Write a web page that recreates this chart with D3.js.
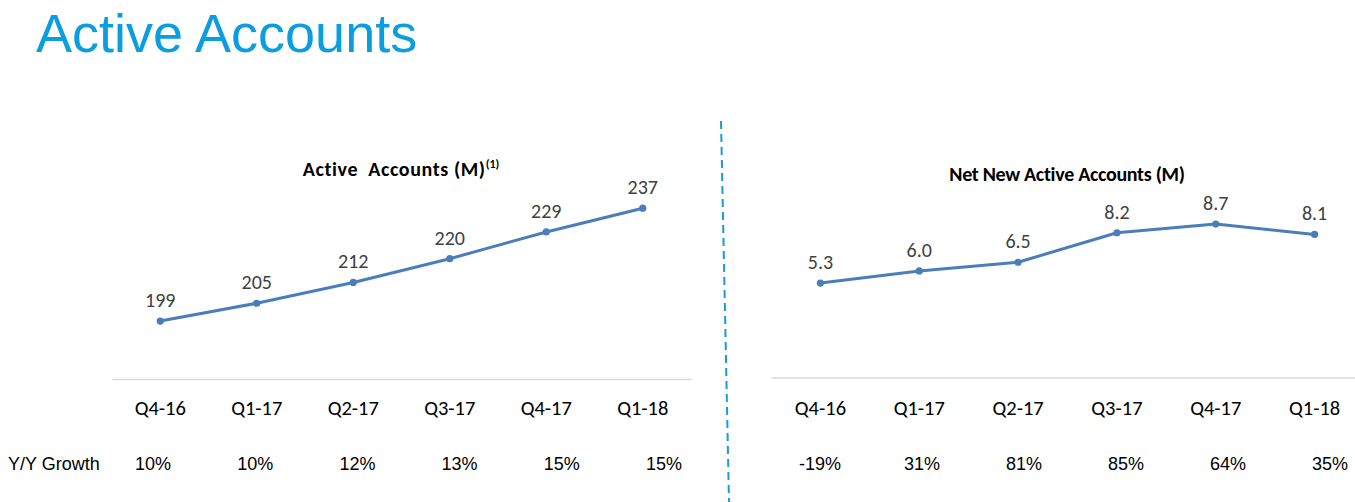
<!DOCTYPE html>
<html>
<head>
<meta charset="utf-8">
<script src="https://cdn.jsdelivr.net/npm/d3@7"></script>
<style>
  html, body { margin: 0; padding: 0; background: #ffffff; }
  svg { display: block; }
</style>
</head>
<body>
<svg id="chart" width="1355" height="502"></svg>
<script>
// ---- data ----
const quarters = ["Q4-16", "Q1-17", "Q2-17", "Q3-17", "Q4-17", "Q1-18"];
const activeAccounts = [199, 205, 212, 220, 229, 237];
const activeLabels = ["199", "205", "212", "220", "229", "237"];
const activeGrowth = ["10%", "10%", "12%", "13%", "15%", "15%"];
const netNewAccounts = [5.3, 6.0, 6.5, 8.2, 8.7, 8.1];
const netNewLabels = ["5.3", "6.0", "6.5", "8.2", "8.7", "8.1"];
const netNewGrowth = ["-19%", "31%", "81%", "85%", "64%", "35%"];
const pageTitle = "Active Accounts";
const leftTitle = "Active  Accounts (M)";
const leftTitleSup = "(1)";
const rightTitle = "Net New Active Accounts (M)";
const growthLabel = "Y/Y Growth";

const svg = d3.select("#chart");
const lineColor = "#4a7ebb";
const labelFont = "Carlito, Lato, 'Open Sans', sans-serif";
const arialFont = "'Liberation Sans', Arial, sans-serif";

// Page title
svg.append("text")
  .attr("x", 36).attr("y", 52)
  .attr("font-family", arialFont)
  .attr("font-size", 54)
  .attr("fill", "#0a9de0")
  .text(pageTitle);

// Divider
svg.append("line")
  .attr("x1", 721).attr("y1", 121)
  .attr("x2", 729).attr("y2", 502)
  .attr("stroke", "#1a9ad8")
  .attr("stroke-width", 2)
  .attr("stroke-dasharray", "8,5");

function drawPanel(cfg) {
  const x = d3.scaleBand().domain(quarters).range(cfg.xRange);
  const y = d3.scaleLinear().domain(cfg.yDomain).range(cfg.yRange);
  const g = d3.select("#chart").append("g");
  const cx = q => x(q) + x.bandwidth() / 2;

  // baseline axis
  const axis = d3.axisBottom(x).tickSize(0).tickPadding(0);
  const ax = g.append("g").attr("transform", `translate(0,${cfg.axisY})`).call(axis);
  ax.select(".domain").attr("stroke", "#d9d9d9").attr("stroke-width", 1.5);
  ax.selectAll(".tick text")
    .attr("y", 415 - cfg.axisY)
    .attr("dy", 0)
    .attr("font-family", labelFont)
    .attr("font-size", 20.5)
    .attr("fill", "#000");

  // title
  const t = g.append("text")
    .attr("x", cfg.titleX).attr("y", cfg.titleY)
    .attr("text-anchor", "middle")
    .attr("font-family", labelFont)
    .attr("font-weight", "bold")
    .attr("font-size", 20)
    .attr("letter-spacing", cfg.titleSpacing)
    .style("white-space", "pre")
    .attr("fill", "#000")
    .text(cfg.title);
  if (cfg.sup) {
    t.append("tspan")
      .attr("font-size", 12)
      .attr("dy", -8)
      .attr("letter-spacing", 0)
      .text(cfg.sup);
  }

  // line
  const line = d3.line()
    .x((d, i) => cx(quarters[i]))
    .y(d => y(d));
  g.append("path")
    .datum(cfg.values)
    .attr("d", line)
    .attr("fill", "none")
    .attr("stroke", lineColor)
    .attr("stroke-width", 3)
    .attr("stroke-linejoin", "round");

  g.selectAll(".pt")
    .data(cfg.values)
    .join("circle")
    .attr("cx", (d, i) => cx(quarters[i]))
    .attr("cy", d => y(d))
    .attr("r", 3.6)
    .attr("fill", lineColor);

  g.selectAll(".lbl")
    .data(cfg.values)
    .join("text")
    .attr("x", (d, i) => cx(quarters[i]))
    .attr("y", d => y(d) - 14)
    .attr("text-anchor", "middle")
    .attr("font-family", labelFont)
    .attr("font-size", 20)
    .attr("fill", "#404040")
    .text((d, i) => cfg.labels[i]);

  // growth row
  const gx = d3.scalePoint().domain(quarters).range(cfg.growthRange);
  g.selectAll(".gr")
    .data(cfg.growth)
    .join("text")
    .attr("x", (d, i) => gx(quarters[i]))
    .attr("y", 470)
    .attr("text-anchor", "middle")
    .attr("font-family", arialFont)
    .attr("font-size", 18)
    .attr("fill", "#000")
    .text(d => d);
}

drawPanel({
  xRange: [112, 691],
  yDomain: [180, 250],
  yRange: [377.5, 169.6],
  axisY: 379,
  values: activeAccounts,
  labels: activeLabels,
  growth: activeGrowth,
  growthRange: [153, 664],
  title: leftTitle,
  sup: leftTitleSup,
  titleX: 401, titleY: 176,
  titleSpacing: 0.6
});

drawPanel({
  xRange: [771, 1364],
  yDomain: [0, 10],
  yRange: [375, 201.5],
  axisY: 377.5,
  values: netNewAccounts,
  labels: netNewLabels,
  growth: netNewGrowth,
  growthRange: [820, 1330],
  title: rightTitle,
  sup: null,
  titleX: 1067, titleY: 181,
  titleSpacing: -0.3
});

svg.append("text")
  .attr("x", 8).attr("y", 470)
  .attr("font-family", arialFont)
  .attr("font-size", 18)
  .attr("fill", "#000")
  .text(growthLabel);
</script>
</body>
</html>
